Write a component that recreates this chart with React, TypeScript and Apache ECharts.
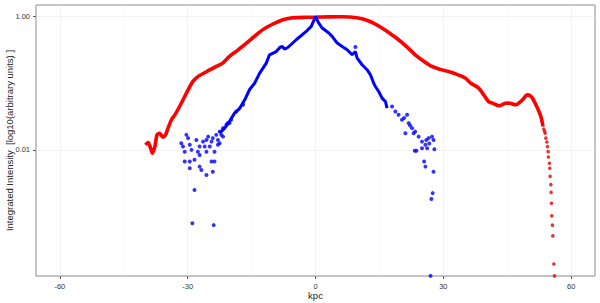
import React, { useEffect, useRef } from "react";
import * as echarts from "echarts";

// Red profile (dense curve), [kpc, intensity]
const redCurve: [number, number][] = [
  [-39.9, 0.0119], [-39.3, 0.0129], [-38.7, 0.0106], [-38.3, 0.0089], [-37.7, 0.0112],
  [-37.2, 0.0168], [-36.6, 0.0178], [-35.8, 0.0155], [-35.2, 0.0168], [-34.6, 0.0212],
  [-33.8, 0.0283], [-33.0, 0.0336], [-31.9, 0.0448], [-30.7, 0.0633], [-29.9, 0.0798],
  [-28.8, 0.106], [-27.6, 0.126], [-25.6, 0.149], [-23.3, 0.179], [-21.7, 0.203],
  [-20.2, 0.253], [-18.3, 0.313], [-16.2, 0.4], [-14.3, 0.509], [-12.35, 0.64],
  [-10.1, 0.771], [-7.66, 0.9], [-6.1, 0.95], [-4.5, 0.97], [-2.0, 0.98],
  [0, 0.985], [3, 0.995], [6, 1.0], [8, 0.99], [10, 0.96],
  [11.7, 0.9], [13.6, 0.8], [15.6, 0.676], [17.5, 0.56], [19.5, 0.451],
  [21.5, 0.35], [23.4, 0.268], [25.4, 0.215], [27.35, 0.179], [29.3, 0.162],
  [31.2, 0.15], [33.2, 0.136], [35.15, 0.12], [36.5, 0.1], [38.3, 0.0847],
  [39.2, 0.0713], [40.6, 0.0533], [41.55, 0.0504], [43.1, 0.0459], [44.7, 0.0504],
  [45.7, 0.05], [47.0, 0.0475], [47.8, 0.0509], [48.6, 0.0565], [49.75, 0.0671],
  [50.4, 0.0649], [50.9, 0.06], [51.5, 0.0509], [52.1, 0.0424], [52.9, 0.0317],
  [53.4, 0.0224],
];

// Red profile, sparse tail points
const redTail: [number, number][] = [
  [53.6, 0.0205], [53.75, 0.019], [53.9, 0.0178], [54.07, 0.015], [54.3, 0.0131],
  [54.44, 0.0112], [54.6, 0.0094], [54.67, 0.0078], [54.9, 0.0063], [55.0, 0.0053],
  [55.07, 0.004], [55.24, 0.003], [55.3, 0.0023], [55.38, 0.00158], [55.47, 0.00102],
  [55.6, 0.00074], [55.7, 0.00051], [55.94, 0.000193], [56.1, 0.000128],
];

// Blue profile, dense core
const blueCore: [number, number][] = [
  [-22.5, 0.0178], [-21.3, 0.0212], [-20.2, 0.0267], [-19.0, 0.0356], [-17.8, 0.042],
  [-16.6, 0.0565], [-15.5, 0.08], [-14.3, 0.1], [-13.1, 0.142], [-11.55, 0.201],
  [-10.8, 0.268], [-9.2, 0.3], [-8.4, 0.345], [-7.8, 0.357], [-7.27, 0.327],
  [-6.5, 0.345], [-4.52, 0.451], [-2.18, 0.601], [-1.0, 0.715], [0, 1.0],
  [0.77, 0.8], [1.57, 0.676], [3.12, 0.569], [3.91, 0.506], [5.09, 0.402],
  [6.26, 0.357], [7.43, 0.319], [8.6, 0.268], [9.37, 0.3], [9.77, 0.239],
  [10.94, 0.19], [12.1, 0.16], [12.9, 0.134], [13.66, 0.1], [14.06, 0.0895],
  [14.83, 0.0753], [15.63, 0.0599], [16.4, 0.0533], [16.8, 0.0424],
];

// Blue profile, scattered points
const blueScatter: [number, number][] = [
  [-31.5, 0.0126], [-31.1, 0.0112], [-30.7, 0.0094], [-30.3, 0.0168], [-29.9, 0.015],
  [-30.7, 0.00667], [-29.5, 0.0119], [-29.1, 0.01], [-29.5, 0.00667], [-29.5, 0.0053],
  [-28.4, 0.0071], [-27.96, 0.0141], [-27.6, 0.0094], [-27.2, 0.0084], [-27.2, 0.0056],
  [-26.8, 0.005], [-28.4, 0.0025], [-28.9, 0.00079], [-26.4, 0.0133], [-26.0, 0.0112],
  [-25.6, 0.0094], [-25.6, 0.0042], [-25.2, 0.0158], [-24.8, 0.0112], [-24.4, 0.0133],
  [-24.4, 0.0067], [-24.1, 0.015], [-24.1, 0.0047], [-23.9, 0.00074], [-23.7, 0.0094],
  [-23.7, 0.0067], [-23.3, 0.0168], [-22.9, 0.0141], [-22.9, 0.0119], [-22.5, 0.0188],
  [-22.5, 0.0126], [-22.1, 0.0168], [-21.7, 0.0212], [-21.7, 0.0158], [-20.9, 0.0238],
  [-20.2, 0.0252], [-25.6, 0.0141], [-27.2, 0.0112], [-18.6, 0.0377], [-17.0, 0.0475],
  [-19.8, 0.0283], [-20.6, 0.0252],
  [9.37, 0.35],
  [17.97, 0.0448], [18.75, 0.0377], [19.5, 0.0336], [20.3, 0.0283], [21.5, 0.0336],
  [21.87, 0.0252], [22.66, 0.0212], [23.04, 0.0178], [23.4, 0.0188], [24.2, 0.0158],
  [25.0, 0.0133], [25.8, 0.0119], [26.55, 0.015], [27.35, 0.0158], [27.7, 0.0141],
  [27.9, 0.0102], [26.2, 0.0106], [23.3, 0.0097], [23.7, 0.0097], [25.5, 0.0067],
  [25.8, 0.0056], [27.7, 0.0047], [27.5, 0.00224], [27.2, 0.00183], [21.1, 0.0178],
  [25.0, 0.0106], [26.7, 0.0125], [26.0, 0.0141], [20.8, 0.03], [22.2, 0.0232],
  [27.0, 0.000128],
];

const xTicks = [-60, -30, 0, 30, 60];
const yTicks = [0.01, 1];
const yTickLabels = ["0.01", "1.00"];

const FONT = "'Liberation Sans', Arial, Helvetica, sans-serif";

export default function App() {
  const ref = useRef<HTMLDivElement>(null);
  useEffect(() => {
    if (!ref.current) return;
    const chart = echarts.init(ref.current, undefined, { renderer: "svg" });
    chart.setOption({
      animation: false,
      backgroundColor: "#ffffff",
      grid: {
        left: 36,
        right: 5,
        top: 5,
        bottom: 27,
        show: true,
        borderColor: "#8a8a8a",
        borderWidth: 1,
        backgroundColor: "transparent",
        containLabel: false,
        outerBoundsMode: "none",
      },
      xAxis: {
        type: "value",
        min: -65.6,
        max: 65.6,
        splitNumber: 5,
        name: "kpc",
        nameLocation: "middle",
        nameGap: 14,
        nameMoveOverlap: false,
        nameTextStyle: { fontFamily: FONT, fontSize: 9.5, color: "#222" },
        axisLine: { show: false, onZero: false },
        axisTick: {
          show: true,
          length: 3,
          customValues: xTicks,
          lineStyle: { color: "#555", width: 1 },
        },
        axisLabel: {
          customValues: xTicks,
          formatter: (v: number) => String(v),
          fontFamily: FONT,
          fontSize: 7.5,
          color: "#333",
          margin: 6,
        },
        splitLine: { show: true, lineStyle: { color: "#eeeeee", width: 0.7 } },
        minorTick: { show: false, splitNumber: 2 },
        minorSplitLine: { show: true, lineStyle: { color: "#f5f5f5", width: 0.5 } },
      },
      yAxis: {
        type: "log",
        logBase: 10,
        min: 1.274e-4,
        max: 1.5,
        name: "Integrated Intensity  [log10(arbitrary units) ]",
        nameLocation: "middle",
        nameGap: 22,
        nameMoveOverlap: false,
        nameTextStyle: { fontFamily: FONT, fontSize: 9.5, color: "#222" },
        axisLine: { show: false, onZero: false },
        axisTick: {
          show: true,
          length: 3,
          customValues: yTicks,
          lineStyle: { color: "#555", width: 1 },
        },
        axisLabel: {
          customValues: yTicks,
          formatter: (v: number) => (v > 0.1 ? yTickLabels[1] : yTickLabels[0]),
          fontFamily: FONT,
          fontSize: 7.5,
          color: "#333",
          margin: 6,
        },
        splitLine: { show: true, lineStyle: { color: "#eeeeee", width: 0.7 } },
        minorSplitLine: { show: false },
      },
      series: [
        {
          type: "line",
          data: redCurve,
          symbol: "none",
          smooth: 0.3,
          lineStyle: { color: "#ff0000", width: 3.6 },
          z: 2,
        },
        {
          type: "scatter",
          data: redTail,
          symbol: "circle",
          symbolSize: 3.6,
          itemStyle: { color: "#e60000" },
          z: 2,
        },
        {
          type: "line",
          data: blueCore,
          symbol: "none",
          lineStyle: { color: "#0000ff", width: 3 },
          z: 3,
        },
        {
          type: "scatter",
          data: blueScatter,
          symbol: "circle",
          symbolSize: 4,
          itemStyle: { color: "#0000ff" },
          z: 3,
        },
      ],
    });
    return () => chart.dispose();
  }, []);
  return (
    <div
      ref={ref}
      style={{ position: "fixed", left: 0, top: 0, width: 600, height: 303, background: "#fff" }}
    />
  );
}
